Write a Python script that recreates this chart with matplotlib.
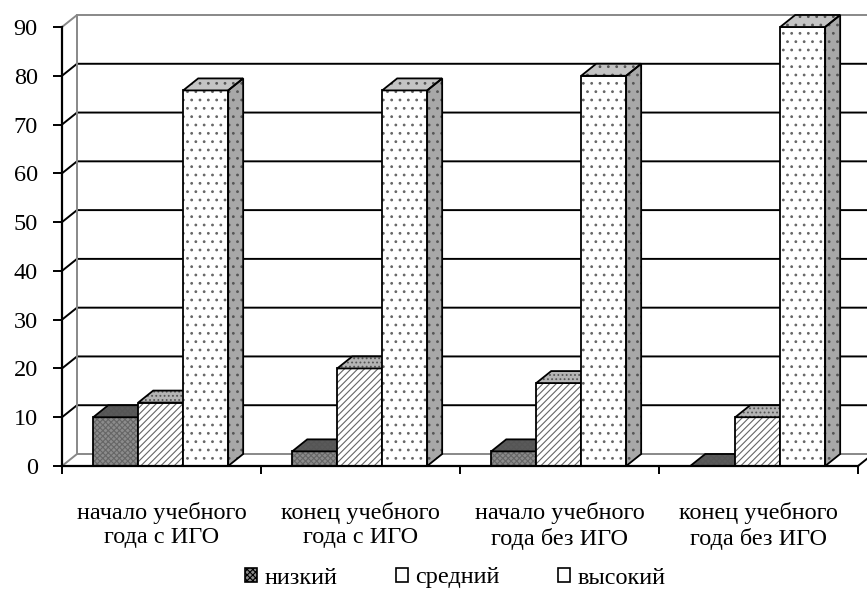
import matplotlib.pyplot as plt
from matplotlib.patches import Polygon, Patch

plt.rcParams['font.family'] = ['Liberation Serif', 'DejaVu Serif']
plt.rcParams['hatch.linewidth'] = 0.8

categories = ['начало учебного\nгода с ИГО', 'конец учебного\nгода с ИГО',
              'начало учебного\nгода без ИГО', 'конец учебного\nгода без ИГО']
series = ['низкий', 'средний', 'высокий']
low = [10, 3, 3, 0]
mid = [13, 20, 17, 10]
high = [77, 77, 80, 90]
yticks = list(range(0, 100, 10))

values = [low, mid, high]
# (front face, front hatch, top face, top hatch, side face)
styles = [
    ('#8c8c8c', 'xxxxxx', '#5a5a5a', 'xxxxxx', '#6a6a6a'),
    ('#ffffff', '/////', '#b4b4b4', '....', '#a0a0a0'),
    ('#ffffff', '..', '#c4c4c4', '..', '#a8a8a8'),
]
fs = 17.5

fig = plt.figure(figsize=(8.67, 5.92), dpi=100)
ax = fig.add_axes([62 / 867, (592 - 466) / 592, (858 - 62) / 867, (466 - 27) / 592])
ax.set_xlim(0, 4)
ax.set_ylim(0, 90)

# depth offset of the 3d effect, in data units
dx = 15 / 199
dy = 12 * 90 / 439


def face(pts, fc, hatch, z):
    ax.add_patch(Polygon(pts, closed=True, facecolor=fc, edgecolor='#555555', hatch=hatch,
                         lw=0, zorder=z, clip_on=False))
    ax.add_patch(Polygon(pts, closed=True, fill=False, edgecolor='black', lw=1.3,
                         zorder=z + 0.05, clip_on=False, joinstyle='miter'))


# back wall, grid and floor
n = len(categories)
for v in yticks:
    c = 'black' if 0 < v < 90 else '#888888'
    ax.plot([0, dx, n + dx], [v, v + dy, v + dy], color=c, lw=1.4, zorder=1, clip_on=False)
ax.plot([dx, dx], [dy, 90 + dy], color='#888888', lw=1.4, zorder=1, clip_on=False)
ax.plot([n, n + dx], [0, dy], color='black', lw=1.4, zorder=1, clip_on=False)

# bars
w = 0.226
start = 0.157
z = 2
for i in range(n):
    for j, vals in enumerate(values):
        h = vals[i]
        fc, fh, tc, th, sc = styles[j]
        x0 = i + start + j * w
        ax.bar(x0, h, width=w, align='edge', color=fc, edgecolor='#666666', hatch=fh,
               lw=0, zorder=z, clip_on=False)
        ax.bar(x0, h, width=w, align='edge', fill=False, edgecolor='black', lw=1.3,
               zorder=z + 0.05, clip_on=False)
        face([(x0, h), (x0 + w, h), (x0 + w + dx, h + dy), (x0 + dx, h + dy)], tc, th, z + 0.1)
        face([(x0 + w, 0), (x0 + w + dx, dy), (x0 + w + dx, h + dy), (x0 + w, h)], sc, '..', z + 0.1)
        z += 1

for s in ['top', 'right']:
    ax.spines[s].set_visible(False)
for s in ['left', 'bottom']:
    ax.spines[s].set_linewidth(1.6)
    ax.spines[s].set_zorder(50)

ax.set_yticks(yticks)
ax.tick_params(axis='y', direction='out', length=6.5, width=1.4, labelsize=fs, pad=11)
ax.set_xticks(range(n + 1))
ax.set_xticks([i + 0.5 for i in range(n)], minor=True)
ax.set_xticklabels(categories, minor=True)
ax.tick_params(axis='x', which='major', direction='out', length=6, width=1.4, labelbottom=False)
ax.tick_params(axis='x', which='minor', length=0, labelsize=fs, pad=26)
for lab in ax.get_xticklabels(minor=True):
    lab.set_linespacing(1.2)

handles = [Patch(facecolor=styles[j][0], edgecolor='black', hatch=styles[j][1] if j == 0 else None,
                 lw=1.2) for j in range(3)]
fig.legend(handles, series, loc='center', bbox_to_anchor=(455 / 867, 1 - 578 / 592),
           ncol=3, frameon=False, fontsize=fs, handlelength=0.5, handleheight=0.5,
           handletextpad=0.3, columnspacing=2.4)

fig.savefig('out.png', dpi=100)
